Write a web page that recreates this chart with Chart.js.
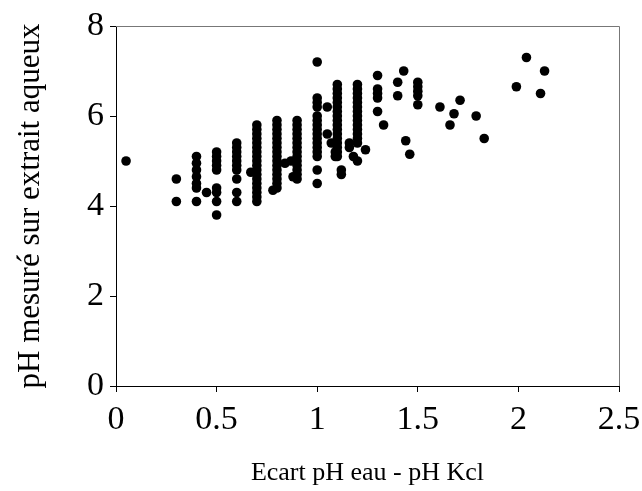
<!DOCTYPE html>
<html>
<head>
<meta charset="utf-8">
<script src="https://cdn.jsdelivr.net/npm/chart.js@4/dist/chart.umd.min.js"></script>
<style>
html,body{margin:0;padding:0;background:#fff;}
#wrap{width:642px;height:491px;position:relative;}
</style>
</head>
<body>
<div id="wrap"><canvas id="c" width="642" height="491"></canvas></div>
<script>
// Data (x = Ecart pH eau - pH Kcl, y = pH mesuré)
const xValues = [
  0.05,
  0.3, 0.3,
  0.4, 0.4, 0.4, 0.4, 0.4, 0.4, 0.4,
  0.45,
  0.5, 0.5, 0.5, 0.5, 0.5, 0.5, 0.5, 0.5, 0.5,
  0.6, 0.6, 0.6, 0.6, 0.6, 0.6, 0.6, 0.6, 0.6, 0.6,
  0.67,
  0.7, 0.7, 0.7, 0.7, 0.7, 0.7, 0.7, 0.7, 0.7, 0.7, 0.7, 0.7, 0.7, 0.7, 0.7, 0.7, 0.7, 0.7,
  0.78,
  0.8, 0.8, 0.8, 0.8, 0.8, 0.8, 0.8, 0.8, 0.8, 0.8, 0.8, 0.8, 0.8, 0.8, 0.8, 0.8,
  0.84, 0.87, 0.88,
  0.9, 0.9, 0.9, 0.9, 0.9, 0.9, 0.9, 0.9, 0.9, 0.9, 0.9, 0.9, 0.9, 0.9,
  1.0, 1.0, 1.0, 1.0, 1.0, 1.0, 1.0, 1.0, 1.0, 1.0, 1.0, 1.0, 1.0, 1.0, 1.0, 1.0,
  1.05, 1.05, 1.07, 1.09, 1.09,
  1.1, 1.1, 1.1, 1.1, 1.1, 1.1, 1.1, 1.1, 1.1, 1.1, 1.1, 1.1, 1.1, 1.1, 1.1, 1.1, 1.1,
  1.12, 1.12,
  1.2, 1.2, 1.2, 1.2, 1.2, 1.2, 1.2, 1.2, 1.2, 1.2, 1.2, 1.2, 1.2, 1.2,
  1.16, 1.16, 1.18, 1.2,
  1.24,
  1.3, 1.3, 1.3, 1.3, 1.3,
  1.33,
  1.4, 1.4, 1.43, 1.44, 1.46,
  1.5, 1.5, 1.5, 1.5, 1.5,
  1.61, 1.66, 1.68, 1.71, 1.79, 1.83,
  1.99, 2.04, 2.11, 2.13
];
const yValues = [
  5.0,
  4.6, 4.1,
  5.1, 4.95, 4.8, 4.65, 4.5, 4.4, 4.1,
  4.3,
  5.2, 5.1, 5.0, 4.9, 4.8, 4.4, 4.3, 4.1, 3.8,
  5.4, 5.3, 5.2, 5.1, 5.0, 4.9, 4.8, 4.6, 4.3, 4.1,
  4.75,
  5.8, 5.7, 5.6, 5.5, 5.4, 5.3, 5.2, 5.1, 5.0, 4.9, 4.8, 4.7, 4.6, 4.5, 4.4, 4.3, 4.2, 4.1,
  4.35,
  5.9, 5.8, 5.7, 5.6, 5.5, 5.4, 5.3, 5.2, 5.1, 5.0, 4.9, 4.8, 4.7, 4.6, 4.5, 4.4,
  4.95, 5.0, 4.65,
  5.9, 5.8, 5.7, 5.6, 5.5, 5.4, 5.3, 5.2, 5.1, 5.0, 4.9, 4.8, 4.7, 4.6,
  7.2, 6.4, 6.3, 6.2, 6.0, 5.9, 5.8, 5.7, 5.6, 5.5, 5.4, 5.3, 5.2, 5.1, 4.8, 4.5,
  6.2, 5.6, 5.4, 5.2, 5.1,
  6.7, 6.6, 6.5, 6.4, 6.3, 6.2, 6.1, 6.0, 5.9, 5.8, 5.7, 5.6, 5.5, 5.4, 5.3, 5.2, 5.1,
  4.8, 4.7,
  6.7, 6.6, 6.5, 6.4, 6.3, 6.2, 6.1, 6.0, 5.9, 5.8, 5.7, 5.6, 5.5, 5.4,
  5.4, 5.3, 5.1, 5.0,
  5.25,
  6.9, 6.6, 6.5, 6.4, 6.1,
  5.8,
  6.75, 6.45, 7.0, 5.45, 5.15,
  6.75, 6.65, 6.55, 6.45, 6.25,
  6.2, 5.8, 6.05, 6.35, 6.0, 5.5,
  6.65, 7.3, 6.5, 7.0
];
const xTicks = [0, 0.5, 1, 1.5, 2, 2.5];
const yTicks = [0, 2, 4, 6, 8];
const xTitle = 'Ecart pH eau - pH Kcl';
const yTitle = 'pH mesuré sur extrait aqueux';

const points = xValues.map((x, i) => ({x: x, y: yValues[i]}));

const PAD = {left: 8, right: 23, top: 26, bottom: 2};
const AREA = {left: 116, right: 619, top: 26, bottom: 386};
const W = 642, H = 491;

const frame = {
  id: 'frame',
  afterDatasetsDraw(chart) {
    const {ctx, chartArea: a} = chart;
    ctx.save();
    ctx.strokeStyle = '#777';
    ctx.lineWidth = 1;
    ctx.beginPath();
    ctx.moveTo(a.left, a.top + 0.5);
    ctx.lineTo(a.right + 0.5, a.top + 0.5);
    ctx.lineTo(a.right + 0.5, a.bottom);
    ctx.stroke();
    ctx.restore();
  }
};

const serif = "'Liberation Serif', 'Times New Roman', serif";

new Chart(document.getElementById('c'), {
  type: 'scatter',
  data: {
    datasets: [{
      data: points,
      backgroundColor: '#000',
      borderColor: '#000',
      borderWidth: 0,
      pointRadius: 4.8,
      pointHoverRadius: 4.8
    }]
  },
  options: {
    responsive: false,
    animation: false,
    events: [],
    layout: {padding: PAD},
    plugins: {legend: {display: false}, tooltip: {enabled: false}},
    scales: {
      x: {
        type: 'linear',
        min: 0, max: 2.5,
        afterBuildTicks: s => { s.ticks = xTicks.map(v => ({value: v})); },
        afterFit: s => { s.height = H - AREA.bottom - PAD.bottom; s.paddingLeft = 0; s.paddingRight = 0; },
        grid: {display: true, drawOnChartArea: false, drawTicks: true, tickLength: 6, color: '#000', lineWidth: 1},
        border: {display: true, color: '#000', width: 1},
        ticks: {color: '#000', font: {family: serif, size: 34}, padding: 8, maxRotation: 0, autoSkip: false,
                callback: v => String(v)},
        title: {display: true, text: xTitle, color: '#000', font: {family: serif, size: 26}, padding: {top: 10, bottom: 0}}
      },
      y: {
        type: 'linear',
        min: 0, max: 8,
        afterBuildTicks: s => { s.ticks = yTicks.map(v => ({value: v})); },
        afterFit: s => { s.width = AREA.left - PAD.left; s.paddingTop = 0; s.paddingBottom = 0; },
        grid: {display: true, drawOnChartArea: false, drawTicks: true, tickLength: 6, color: '#000', lineWidth: 1},
        border: {display: true, color: '#000', width: 1},
        ticks: {color: '#000', font: {family: serif, size: 34}, padding: 6, autoSkip: false,
                callback: v => String(v)},
        title: {display: true, text: yTitle, color: '#000', font: {family: serif, size: 31}, padding: {top: 4, bottom: 0}}
      }
    }
  },
  plugins: [frame]
});
</script>
</body>
</html>
